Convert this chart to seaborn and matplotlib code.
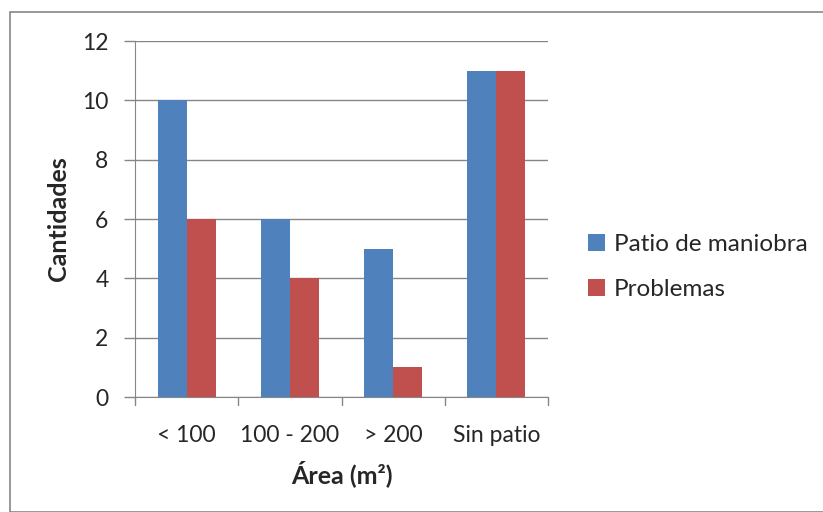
import matplotlib
matplotlib.use("Agg")
import matplotlib.pyplot as plt
import seaborn as sns
import pandas as pd
from matplotlib.patches import Rectangle

categories = ["< 100", "100 - 200", "> 200", "Sin patio"]
patio = [10, 6, 5, 11]
problemas = [6, 4, 1, 11]
series_names = ["Patio de maniobra", "Problemas"]
yticks = [0, 2, 4, 6, 8, 10, 12]

df = pd.DataFrame({
    "cat": categories * 2,
    "val": patio + problemas,
    "serie": [series_names[0]] * 4 + [series_names[1]] * 4,
})

sns.set_style("white")
plt.rcParams["font.family"] = ["Lato", "DejaVu Sans"]

W, H = 823, 512
fig = plt.figure(figsize=(W / 100, H / 100), dpi=100)
ax = fig.add_axes([135 / W, 1 - 397 / H, (548 - 135) / W, (397 - 41) / H])

sns.barplot(data=df, x="cat", y="val", hue="serie", ax=ax,
            palette=["#4F81BD", "#C0504D"], width=0.56, gap=0,
            saturation=1, edgecolor="none", legend=True, zorder=3)

ax.set_ylim(0, 12)
ax.set_xlim(-0.5, 3.5)
ax.set_yticks(yticks)
ax.set_yticklabels([str(v) for v in yticks], fontsize=16.5)
ax.tick_params(axis="y", length=8, width=1, color="#868686", pad=11, direction="out", left=True)
ax.tick_params(axis="x", length=0, pad=20, labelsize=16.5)
for v in yticks:
    ax.axhline(v, color="#868686", lw=1, zorder=1)
for x in [-0.5, 0.5, 1.5, 2.5, 3.5]:
    ax.plot([x, x], [0, -0.28], color="#868686", lw=1, clip_on=False, zorder=1)

for s in ["top", "right"]:
    ax.spines[s].set_visible(False)
ax.spines["left"].set_color("#868686")
ax.spines["bottom"].set_color("#868686")

ax.set_xlabel("Área (m²)", fontsize=18, fontweight="bold", labelpad=10)
ax.set_ylabel("Cantidades", fontsize=18, fontweight="bold", labelpad=9)

leg = ax.legend(loc="center left", bbox_to_anchor=(576 / W, 1 - 267 / H),
                bbox_transform=fig.transFigure, frameon=False,
                fontsize=17.5, handlelength=0.7, handleheight=0.7,
                handletextpad=0.35, labelspacing=1.0, borderpad=0)

fig.patches.append(Rectangle((9.5 / W, 0), 1, 1 - 11.5 / H,
                             transform=fig.transFigure, fill=False,
                             edgecolor="#868686", lw=1.2))

fig.savefig("out.png", dpi=100)
